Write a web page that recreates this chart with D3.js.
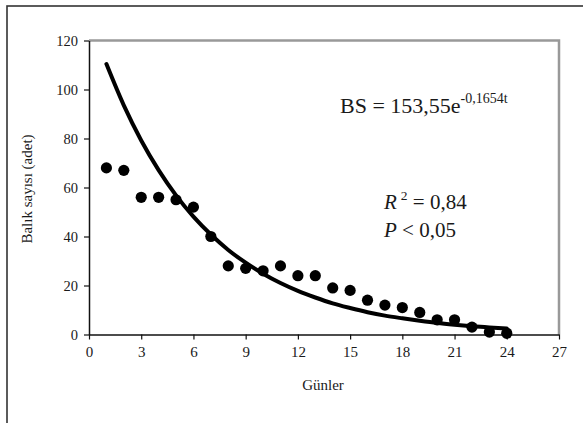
<!DOCTYPE html>
<html>
<head>
<meta charset="utf-8">
<script src="https://cdn.jsdelivr.net/npm/d3@7/dist/d3.min.js"></script>
<style>
  body { margin: 0; background: #fff; }
  svg text { font-family: "Liberation Serif", "Times New Roman", serif; fill: #1a1a1a; }
</style>
</head>
<body>
<svg id="chart" width="583" height="423"></svg>
<script>
// observed fish counts per day
const days = [1,2,3,4,5,6,7,8,9,10,11,12,13,14,15,16,17,18,19,20,21,22,23,24];
const counts = [68,67,56,56,55,52,40,28,27,26,28,24,24,19,18,14,12,11,9,6,6,3,1,0.5];
// trend line values
const trend = [110.4,93.5,79.2,67.1,56.8,48.1,40.8,34.5,29.3,24.8,21.0,17.8,15.1,12.7,10.8,9.1,7.7,6.6,5.6,4.7,4.0,3.4,2.9,2.4];
const xTicks = [0,3,6,9,12,15,18,21,24,27];
const yTicks = [0,20,40,60,80,100,120];

const svg = d3.select('#chart');

// outer frame (only left/top edges visible)
svg.append('rect')
  .attr('x', 7).attr('y', 6)
  .attr('width', 700).attr('height', 600)
  .attr('fill', 'none')
  .attr('stroke', '#333')
  .attr('stroke-width', 1.6);

const plotL = 89, plotR = 559, plotT = 40.5, plotB = 334.5;

const x = d3.scaleLinear().domain([0, 27]).range([plotL, plotR]);
const y = d3.scaleLinear().domain([0, 120]).range([plotB, plotT]);

// plot area border: gray top & right
svg.append('path')
  .attr('d', `M${plotL},${plotT}H${plotR}V${plotB}`)
  .attr('fill', 'none')
  .attr('stroke', '#999')
  .attr('stroke-width', 2.5);

// axes
const xAxis = svg.append('g')
  .attr('transform', `translate(0,${plotB})`)
  .call(d3.axisBottom(x).tickValues(xTicks).tickSize(5).tickPadding(7).tickSizeOuter(0));
const yAxis = svg.append('g')
  .attr('transform', `translate(${plotL},0)`)
  .call(d3.axisLeft(y).tickValues(yTicks).tickSize(5).tickPadding(6).tickSizeOuter(0));

[xAxis, yAxis].forEach(g => {
  g.select('.domain').attr('stroke', '#111').attr('stroke-width', 1.5);
  g.selectAll('.tick line').attr('stroke', '#111').attr('stroke-width', 1.2);
  g.attr('font-family', null);
});
xAxis.selectAll('text').style('font-size', '15px');
yAxis.selectAll('text').style('font-size', '14.5px');

// trend line
const line = d3.line()
  .x((d, i) => x(days[i]))
  .y(d => y(d))
  .curve(d3.curveMonotoneX);

svg.append('path')
  .datum(trend)
  .attr('d', line)
  .attr('fill', 'none')
  .attr('stroke', '#000')
  .attr('stroke-width', 4)
  .attr('stroke-linecap', 'round');

// observations
svg.selectAll('.dot')
  .data(counts)
  .enter().append('circle')
  .attr('class', 'dot')
  .attr('cx', (d, i) => x(days[i]))
  .attr('cy', d => y(d))
  .attr('r', 5.6)
  .attr('fill', '#000');

// axis titles
svg.append('text')
  .attr('x', 323).attr('y', 390)
  .attr('text-anchor', 'middle')
  .style('font-size', '15px')
  .text('Günler');

svg.append('text')
  .attr('transform', 'translate(32,189) rotate(-90)')
  .attr('text-anchor', 'middle')
  .style('font-size', '15px')
  .text('Balık sayısı (adet)');

// equation and stats
const eq = svg.append('text')
  .attr('x', 340).attr('y', 113)
  .style('font-size', '22px');
eq.append('tspan').text('BS = 153,55e');
eq.append('tspan').attr('dy', -10).style('font-size', '14px').text('-0,1654t');

const r2 = svg.append('text')
  .attr('x', 384).attr('y', 209)
  .style('font-size', '21px');
r2.append('tspan').style('font-style', 'italic').text('R');
r2.append('tspan').attr('dx', 4).attr('dy', -9).style('font-size', '13.5px').text('2');
r2.append('tspan').attr('dy', 9).text(' = 0,84');

const p = svg.append('text')
  .attr('x', 384).attr('y', 237)
  .style('font-size', '21px');
p.append('tspan').style('font-style', 'italic').text('P');
p.append('tspan').text(' < 0,05');
</script>
</body>
</html>
